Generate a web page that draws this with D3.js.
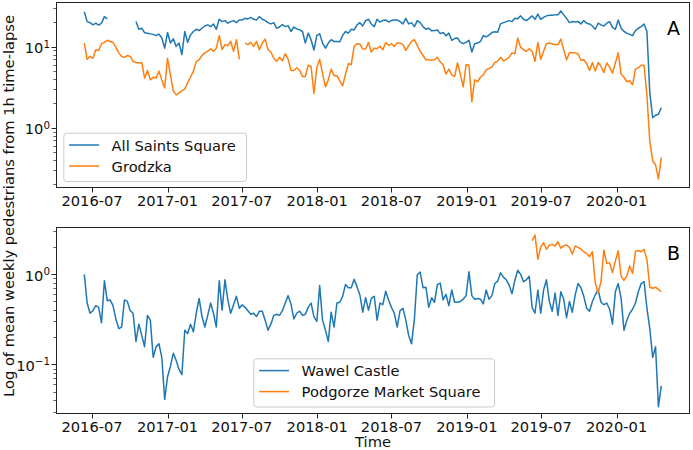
<!DOCTYPE html>
<html><head><meta charset="utf-8">
<script src="https://cdn.jsdelivr.net/npm/d3@7"></script>
<style>body{margin:0;background:#fff}svg{display:block;font-family:"DejaVu Sans",sans-serif}</style>
</head><body><svg id="c" width="693" height="450"></svg>
<script>
// ---------- data ----------
const firstWeek = "2016-06-12"; // weekly observations from this date
const allSaints = [27, 20.4, 19.8, 18.6, 19.5, 18.5, 19.5, 23.5, 22,
  null, null, null, null, null, null, null, null, null,
  20.4, 16.4, 16.9, 14.9, 14.7, 14.4, 14.2, 13.7, 14.3, 12.8, 9.6, 15, 11.1, 12.5, 10.1, 11.1, 8.0, 15.4, 11.3, 14, 15.4, 16.4, 15.8, 16.9, 18.0, 18.6, 17.7, 19.1, 16.4, 21.8, 20.4, 21, 19.5, 20.4, 21, 19.8, 21.4, 21.4, 22.4, 22, 23, 21.8, 21.4, 23.5,
  21.8, 21, 19.8, 19.1, 19.8, 16.9, 17.5, 18.8, 17.7, 18.2, 15.4, 17.5, 16.6, 16.2, 15.4, 11.1, 14.7, 12.2, 9.1, 13.8, 14.4, 11.1, 9.6, 11.1, 12.2, 11.6, 11.6, 11.5, 13.8, 15.4, 14.7, 16.4, 16.1, 18.6, 19.8, 18, 21, 21.8, 19.1, 17.7, 21.8, 20.2, 21, 21.4, 20.2, 21, 21.4, 21.4, 20.4, 19.1, 22.4, 19.1, 19.8, 17.7, 21, 19.8, 17.7, 16.4, 16.9, 15.7, 15.8, 16.1,
  14.5, 15, 13.7, 14.7, 12, 12.6, 12.8, 11.4, 10.9, 11.3, 12, 8.6, 10.9, 11.1, 11.6, 13.7, 13.2, 13.9, 15, 15.3, 15.1, 19.1, 19.8, 20.4, 21, 20.4, 22.4, 22.2, 24, 21.8, 21, 22.4, 24, 21.8, 25.3, 21.8, 23, 24, 24.5, 24.5, 24.7, 24.7, 27.6, 24.7, 22.4, 19.8, 20.4, 20.2, 20.4, 19.1, 21, 19.5, 19.1, 18, 16.4, 19.5, 18.6, 18, 19.5, 20.4, 17.3, 16.4, 21.4, 16.9, 15.4, 14.7, 14.2, 13.7, 15.8, 16.9, 17.7, 19.1, 15.4, 2.7, 1.33, 1.43, 1.47, 1.77];
const grodzka = [11.1, 7.0, 7.6, 7.2, 9.2, 9.0, 10.9, 11.3, 12, 11.6, 11.3, 9.9, 8.4, 7.6, 7.4, 7.8, 7.6, 6.6, 6.4, 6.3, 6.4, 4.1, 5.1, 3.9, 4.2, 4.1, 5, 3.9, 3.1, 7.2, 4.5, 2.85, 2.55, 2.7, 2.85, 3.0, 3.6, 4.2, 5, 6.6, 6.9, 7.8, 8.4, 8.8, 9.4, 8.8, 9.6, 13.7, 9.2, 10.6, 10.3, 11.6, 8.8, 12.2, 7.0,
  null,
  11.1, 10.6, 11.3, 10.1, 11.6, 9.2,
  11.1, 12.4, 9.2, 8.6, 7.2, 6.6, 7.4, 6.7, 8.2, 7.0, 5.1, 5.1, 5.5, 5.1, 4.3, 4.3, 5.9, 5.7, 2.65, 5.5, 7.0, 4.7, 3.2, 3.9, 5.3, 4.4, 4.4, 3.8, 3.3, 4.6, 6.2, 6.0, 10.1, 10.9, 10.8, 9.4, 9.4, 11.3, 8.6, 9.6, 9.5, 10.1, 9.2, 11.3, 10.4, 10.9, 10.1, 11.1, 11.1, 10.6, 9.0, 10.3, 11.6, 12.2, 10.4, 8.8, 7.8, 6.9, 6.9, 6.8, 6.9, 7.4, 6.5, 6.0, 4.6, 5.3,
  4.5, 4.3, 6.3, 4.6, 3.2, 6.0, 5.9, 2.1, 3.9, 3.7, 4.2, 4.5, 5.2, 5.4, 5.6, 6.4, 6.6, 7.4, 6.7, 7.0, 7.4, 8.4, 8.2, 12.8, 9.8, 9.2, 8.8, 9.4, 8.8, 6.6, 11.3, 7.0, 8.8, 10.9, 11.1, 10.9, 10.6, 10.6, 12.4, 9.2, 6.9, 8.4, 8.4, 8.4, 8.2, 6.8, 6.9, 6.2, 5.1, 6.4, 5.0, 6.4, 5.7, 4.8, 6.3, 5.6, 4.7, 6.3, 8.4, 4.6, 4.2, 3.7, 3.8, 3.4, 5.3, 5.5, 5.9, 5.9, 2.5, 0.68, 0.39, 0.35, 0.234, 0.43];
const wawel = [1.0, 0.48, 0.37, 0.395, 0.45, 0.43, 0.29, 0.85, 0.51, 0.52, 0.45, 0.32, 0.25, 0.26, 0.52, 0.5, 0.395, 0.37, 0.18, 0.28, 0.21, 0.157, 0.35, 0.31, 0.12, 0.157, 0.17, 0.12, 0.041, 0.073, 0.095, 0.133, 0.111, 0.088, 0.077, 0.24, 0.22, 0.28, 0.23, 0.37, 0.54, 0.34, 0.26, 0.35, 0.48, 0.37, 0.26, 0.85, 0.40, 0.87, 0.52, 0.37, 0.46, 0.57, 0.42, 0.46, 0.43, 0.395, 0.36, 0.37, 0.34, 0.39,
  0.39, 0.31, 0.24, 0.28, 0.35, 0.36, 0.35, 0.395, 0.48, 0.58, 0.47, 0.32, 0.37, 0.39, 0.35, 0.36, 0.43, 0.48, 0.34, 0.30, 0.75, 0.31, 0.24, 0.18, 0.38, 0.26, 0.48, 0.49, 0.57, 0.77, 0.71, 0.71, 0.88, 0.73, 0.59, 0.38, 0.55, 0.40, 0.54, 0.57, 0.31, 0.48, 0.46, 0.65, 0.52, 0.43, 0.37, 0.26, 0.395, 0.42, 0.31, 0.21, 0.17, 0.32, 0.99, 1.06, 0.71, 0.72, 0.43, 0.55, 0.49, 0.77, 0.8, 0.52, 0.6, 0.45,
  0.67, 0.49, 0.49, 0.5, 0.53, 0.58, 1.07, 0.58, 0.53, 0.54, 0.53, 0.47, 0.67, 0.53, 0.58, 0.79, 0.84, 1.04, 0.93, 0.87, 0.76, 0.61, 0.86, 1.11, 1.0, 0.83, 0.87, 0.95, 0.43, 0.37, 0.67, 0.37, 0.67, 0.87, 0.5, 0.39, 0.62, 0.35, 0.64, 0.53, 0.33, 0.5, 0.38, 0.59, 0.79, 0.71, 0.57, 0.42, 0.39, 0.5, 0.59, 0.67, 0.49, 0.46, 0.48, 0.41, 0.28, 0.64, 0.79, 0.54, 0.24, 0.31, 0.37, 0.41, 0.48, 0.64, 0.79, 0.83, 0.42, 0.25, 0.12, 0.157, 0.034, 0.058];
const podgorzeFirstWeek = 156; // index of the first Podgorze observation
const podgorze = [2.36, 2.73, 1.47, 2.0, 2.24, 1.9, 2.1, 2.15, 2.06, 2.3, 1.95, 2.08, 2.11, 1.99, 1.68, 2.06, 1.99, 1.9, 1.78, 1.7, 1.57, 1.78, 0.8, 0.62, 0.83, 1.86, 1.32, 1.34, 1.05, 1.4, 1.83, 0.95, 0.86, 0.96, 1.24, 1.02, 1.8, 1.83, 1.78, 1.89, 1.45, 0.72, 0.7, 0.72, 0.68, 0.64];

const xTickLabels = ["2016-07", "2017-01", "2017-07", "2018-01", "2018-07", "2019-01", "2019-07", "2020-01"];
const yTicksA = [1, 10];
const yTicksB = [0.1, 1];
const seriesNamesA = ["All Saints Square", "Grodzka"];
const seriesNamesB = ["Wawel Castle", "Podgorze Market Square"];
const panelLabels = ["A", "B"];
const yLabel = "Log of mean weekly pedestrians from 1h time-lapse";
const xLabel = "Time";

// ---------- layout ----------
const C1 = "#1f77b4", C2 = "#ff7f0e";
const FS = 14.67;
const svg = d3.select("#c");
const parseDay = d3.timeParse("%Y-%m-%d");
const parseMonth = d3.timeParse("%Y-%m");
const t0 = parseDay(firstWeek);
const weekDate = k => d3.timeDay.offset(t0, 7 * k);

const L = 56, R = 690;
const x = d3.scaleTime().domain([new Date(2016, 3, 4), new Date(2020, 5, 28)]).range([L, R]);

const panels = [
  {top: 2, bottom: 188, domain: [0.181, 35.6], ticks: yTicksA, label: panelLabels[0],
   series: [{vals: allSaints, off: 0, color: C1, name: seriesNamesA[0]},
            {vals: grodzka, off: 0, color: C2, name: seriesNamesA[1]}],
   legend: {x0: 63.3, x1: 246, y0: 132.7, y1: 181}},
  {top: 227, bottom: 414, domain: [0.0282, 3.35], ticks: yTicksB, label: panelLabels[1],
   series: [{vals: wawel, off: 0, color: C1, name: seriesNamesB[0]},
            {vals: podgorze, off: podgorzeFirstWeek, color: C2, name: seriesNamesB[1]}],
   legend: {x0: 253.3, x1: 494, y0: 358.3, y1: 406.5}}
];

panels.forEach((p, pi) => {
  const y = d3.scaleLog().domain(p.domain).range([p.bottom, p.top]);
  const g = svg.append("g");
  const clipId = "clip" + pi;
  svg.append("clipPath").attr("id", clipId).append("rect")
    .attr("x", L).attr("y", p.top).attr("width", R - L).attr("height", p.bottom - p.top);

  const line = d3.line().defined(d => d.v != null).x(d => x(d.t)).y(d => y(d.v));
  p.series.forEach(s => {
    const data = s.vals.map((v, i) => ({t: weekDate(i + s.off), v: v}));
    g.append("path").datum(data).attr("clip-path", `url(#${clipId})`)
      .attr("fill", "none").attr("stroke", s.color).attr("stroke-width", 1.5)
      .attr("stroke-linejoin", "round").attr("d", line);
  });

  g.append("rect").attr("x", L + 0.5).attr("y", p.top + 0.5)
    .attr("width", R - L - 1).attr("height", p.bottom - p.top - 1)
    .attr("fill", "none").attr("stroke", "#222").attr("stroke-width", 1);

  xTickLabels.forEach(lbl => {
    const xx = Math.round(x(parseMonth(lbl))) + 0.5;
    g.append("line").attr("x1", xx).attr("x2", xx).attr("y1", p.bottom).attr("y2", p.bottom + 4.5)
      .attr("stroke", "#222").attr("stroke-width", 1);
    g.append("text").attr("x", x(parseMonth(lbl))).attr("y", p.bottom + 18)
      .attr("text-anchor", "middle").attr("font-size", FS).attr("fill", "#111").text(lbl);
  });

  const lo = Math.floor(Math.log10(p.domain[0])), hi = Math.ceil(Math.log10(p.domain[1]));
  for (let e = lo; e <= hi; e++) {
    for (let m = 2; m <= 9; m++) {
      const v = m * Math.pow(10, e);
      if (v < p.domain[0] || v > p.domain[1]) continue;
      const yy = Math.round(y(v)) + 0.5;
      g.append("line").attr("x1", L - 2.7).attr("x2", L).attr("y1", yy).attr("y2", yy)
        .attr("stroke", "#222").attr("stroke-width", 0.7);
    }
  }
  p.ticks.forEach(v => {
    const yy = Math.round(y(v)) + 0.5;
    g.append("line").attr("x1", L - 4.5).attr("x2", L).attr("y1", yy).attr("y2", yy)
      .attr("stroke", "#222").attr("stroke-width", 1);
    const ex = String(Math.round(Math.log10(v))).replace("-", "\u2212");
    const t = g.append("text").attr("x", 50).attr("y", y(v) + 6.5)
      .attr("text-anchor", "end").attr("font-size", FS).attr("fill", "#111");
    t.append("tspan").text("10");
    t.append("tspan").attr("font-size", 10.3).attr("dy", -5.5).text(ex);
  });

  g.append("text").attr("x", 673.5).attr("y", p.top + 33).attr("text-anchor", "middle")
    .attr("font-size", 19).attr("fill", "#000").text(p.label);

  const lg = p.legend;
  g.append("rect").attr("x", lg.x0 + 0.5).attr("y", lg.y0 + 0.5)
    .attr("width", lg.x1 - lg.x0).attr("height", lg.y1 - lg.y0)
    .attr("rx", 3).attr("fill", "#fff").attr("fill-opacity", 0.8)
    .attr("stroke", "#cccccc").attr("stroke-width", 1);
  p.series.forEach((s, i) => {
    const ly = lg.y0 + 12.3 + i * 21;
    g.append("line").attr("x1", lg.x0 + 5.8).attr("x2", lg.x0 + 35.8).attr("y1", ly).attr("y2", ly)
      .attr("stroke", s.color).attr("stroke-width", 1.5);
    g.append("text").attr("x", lg.x0 + 48.3).attr("y", ly + 5.5)
      .attr("font-size", FS).attr("fill", "#111").text(s.name);
  });
});

svg.append("text").attr("transform", "translate(14,206) rotate(-90)")
  .attr("text-anchor", "middle").attr("font-size", FS).attr("fill", "#111").text(yLabel);
svg.append("text").attr("x", (L + R) / 2).attr("y", 447)
  .attr("text-anchor", "middle").attr("font-size", FS).attr("fill", "#111").text(xLabel);
</script></body></html>
